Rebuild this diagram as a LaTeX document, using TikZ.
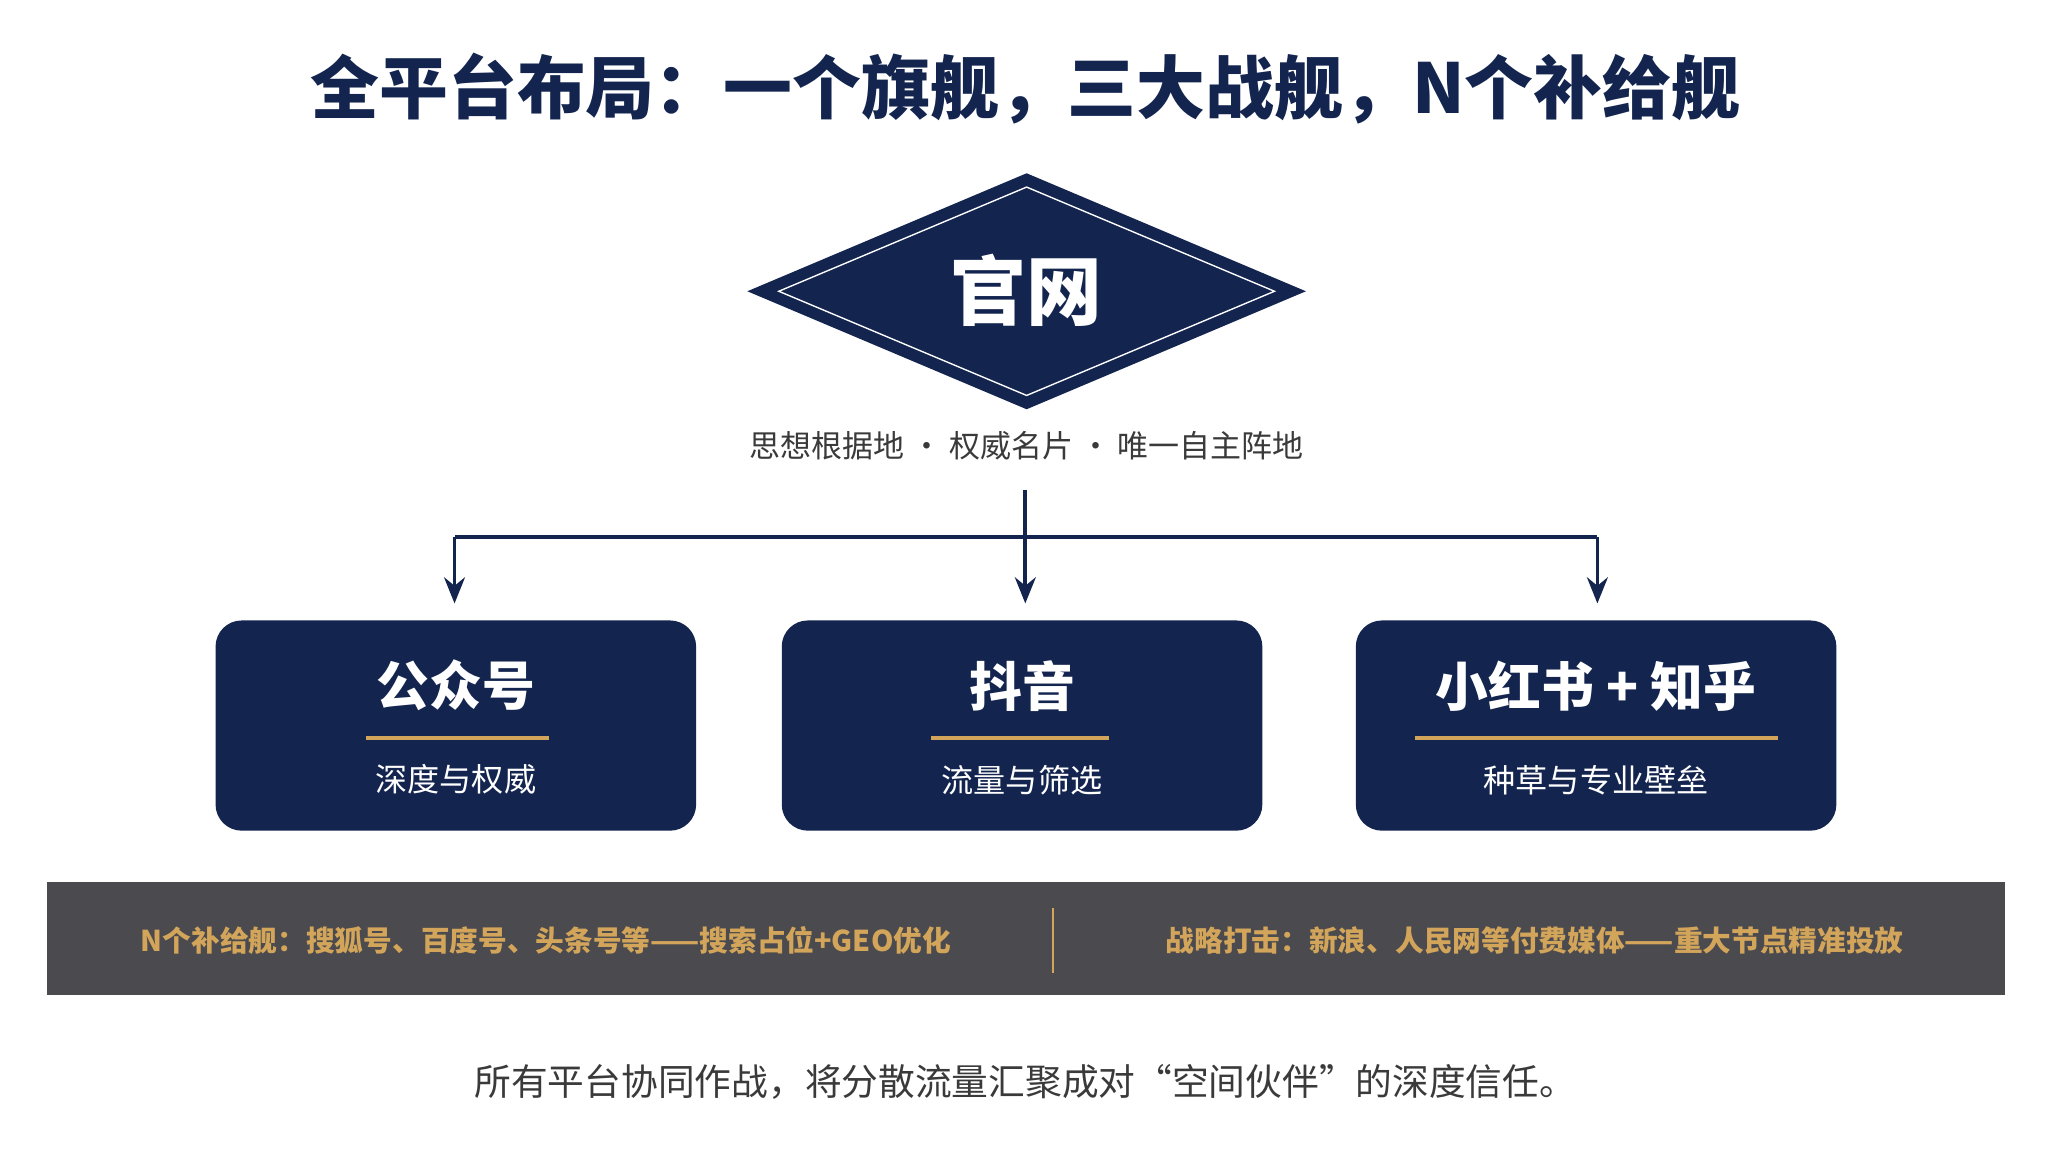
\documentclass[tikz,border=0pt]{standalone}
\usepackage{fontspec}
\setmainfont{Noto Sans CJK SC}
\usetikzlibrary{arrows.meta}
\usetikzlibrary{shapes.geometric}
\definecolor{navy}{HTML}{13254F}
\definecolor{gold}{HTML}{D2A55A}
\definecolor{bar}{HTML}{4A4A4F}
\definecolor{txt}{HTML}{3A3A3A}
\begin{document}
\begin{tikzpicture}[x=0.02cm,y=-0.02cm]
		\tikzset{box/.style={draw=none, fill=navy, rounded corners=0.4cm, minimum width=7.36cm, minimum height=3.22cm}}
		\tikzset{edge/.style={-{Stealth[length=4mm,width=3.2mm]}, draw=navy, line width=1.6pt}}
		\tikzset{head/.style={text=white, font=\fontsize{23}{26}\selectfont\bfseries}}
		\tikzset{sub/.style={text=white, font=\fontsize{14}{16}\selectfont}}
		\tikzset{gold line/.style={draw=gold, line width=1.6pt}}
		\useasboundingbox[fill=white] (0,0) rectangle (1568,882);
		%title
		\node[text=navy, font=\fontsize{30}{36}\selectfont\bfseries] (title) at (785,68) {全平台布局：一个旗舰，三大战舰，N个补给舰};
		%flagship
		\node[diamond, fill=navy, aspect=2.36, minimum width=8.56cm, minimum height=3.62cm, inner sep=0pt] (gw) at (786,223) {};
		\node[diamond, draw=white, line width=0.6pt, aspect=2.36, minimum width=7.6cm, minimum height=3.2cm, inner sep=0pt] (gwin) at (786,223) {};
		\node[text=white, font=\fontsize{33}{36}\selectfont\bfseries] (gwt) at (786,222) {官网};
		\node[text=txt, font=\fontsize{13.5}{16}\selectfont] (gwsub) at (786,341) {思想根据地 · 权威名片 · 唯一自主阵地};
		%battleships
		\node[box] (b1) at (349,555.5) {};
		\node[box] (b2) at (782.5,555.5) {};
		\node[box] (b3) at (1222,555.5) {};
		\node[head] (h1) at (349,525) {公众号};
		\node[head] (h2) at (782.5,525) {抖音};
		\node[head] (h3) at (1222,525) {小红书 + 知乎};
		\node[sub] (s1) at (349,597) {深度与权威};
		\node[sub] (s2) at (782.5,597) {流量与筛选};
		\node[sub] (s3) at (1222,597) {种草与专业壁垒};
		\draw[gold line] (280,565) -- (420,565);
		\draw[gold line] (713,565) -- (849,565);
		\draw[gold line] (1083,565) -- (1361,565);
		%edges
		\coordinate (top) at (785,375);
		\coordinate (j) at (785,411);
		\coordinate (l) at (348,411);
		\coordinate (r) at (1223,411);
		\coordinate (a1) at (348,462);
		\coordinate (a2) at (785,462);
		\coordinate (a3) at (1223,462);
		\draw[edge] (top) -- (a2);
		\draw[edge] (l) -- (a1);
		\draw[edge] (r) -- (a3);
		\draw[navy, line width=1.6pt] (l) -- (r);
		%supply bar
		\fill[bar] (36,675) rectangle (1535,762);
		\draw[gold, line width=1pt] (806,695) -- (806,745);
		\node[text=gold, font=\fontsize{12.5}{15}\selectfont\bfseries] (n1) at (418,720) {N个补给舰：搜狐号、百度号、头条号等——搜索占位+GEO优化};
		\node[text=gold, font=\fontsize{12.5}{15}\selectfont\bfseries] (n2) at (1175,720) {战略打击：新浪、人民网等付费媒体——重大节点精准投放};
		%footer
		\node[text=txt, font=\fontsize{16}{19}\selectfont] (foot) at (785,828) {所有平台协同作战，将分散流量汇聚成对“空间伙伴”的深度信任。};
\end{tikzpicture}
\end{document}
